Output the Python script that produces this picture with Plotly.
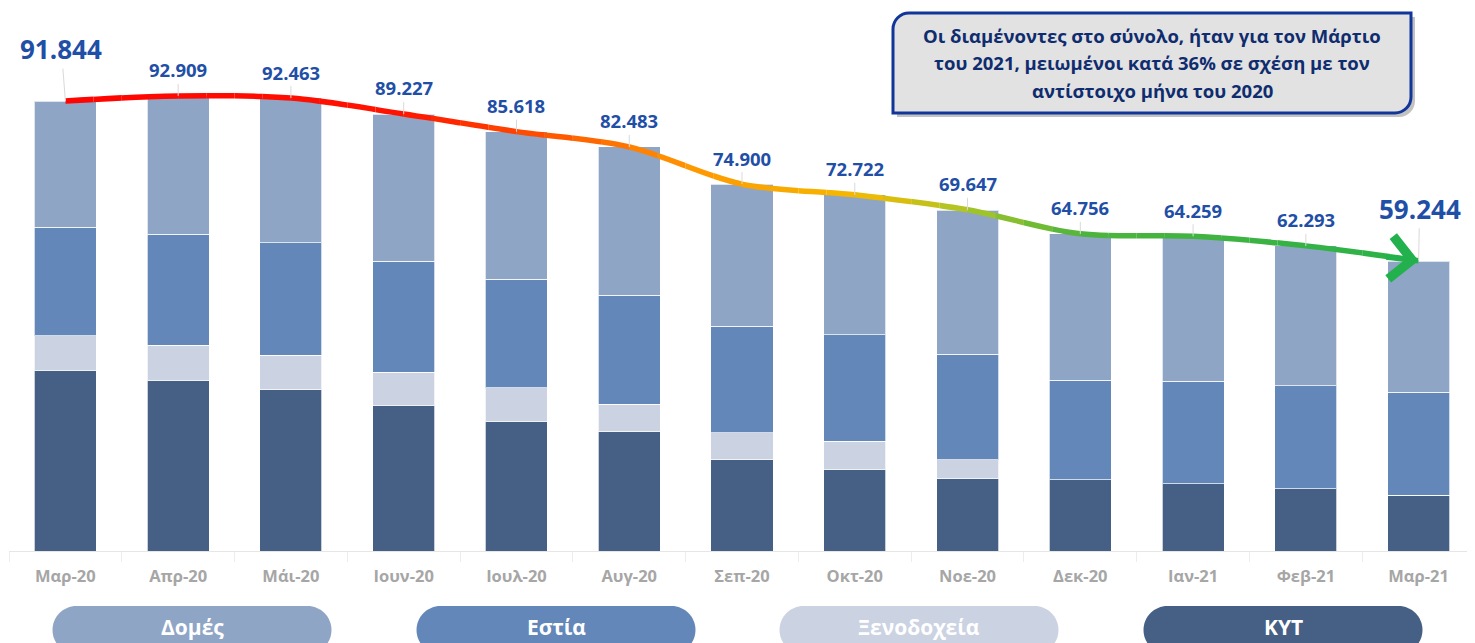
import plotly.graph_objects as go

# ---------------- data ----------------
months = ["Μαρ-20", "Απρ-20", "Μάι-20", "Ιουν-20", "Ιουλ-20", "Αυγ-20", "Σεπ-20",
          "Οκτ-20", "Νοε-20", "Δεκ-20", "Ιαν-21", "Φεβ-21", "Μαρ-21"]
totals = [91.844, 92.909, 92.463, 89.227, 85.618, 82.483, 74.900,
          72.722, 69.647, 64.756, 64.259, 62.293, 59.244]
total_labels = ["91.844", "92.909", "92.463", "89.227", "85.618", "82.483", "74.900",
                "72.722", "69.647", "64.756", "64.259", "62.293", "59.244"]
kyt = [36.9, 34.9, 32.9, 29.8, 26.5, 24.3, 18.6, 16.7, 14.7, 14.5, 13.7, 12.7, 11.4]
xenodoxeia = [7.0, 7.1, 7.1, 6.7, 6.8, 5.7, 5.5, 5.7, 3.9, 0, 0, 0, 0]
estia = [22.2, 22.7, 22.9, 22.7, 22.2, 22.2, 21.8, 21.7, 21.6, 20.4, 21.0, 21.0, 21.0]
domes = [25.7, 28.2, 29.6, 30.0, 30.1, 30.3, 29.0, 28.6, 29.4, 29.9, 29.6, 28.6, 26.8]
series_names = ["Δομές", "Εστία", "Ξενοδοχεία", "ΚΥΤ"]
note_lines = ["Οι διαμένοντες στο σύνολο, ήταν για τον Μάρτιο",
              "του 2021, μειωμένοι κατά 36% σε σχέση με τον",
              "αντίστοιχο μήνα του 2020"]

# ---------------- styles ----------------
C_DOMES = "#8FA5C5"
C_ESTIA = "#6287B8"
C_XEN = "#CBD2E2"
C_KYT = "#455F85"
LABEL_BLUE = "#1F4FA6"
FONT = "Open Sans"

OFF = 8  # page body margin
W, H = 1475 - OFF, 643 - OFF
# plot area in screen pixels: x 9..1475, y 20..551
SX0, SX1, SY0, SY1 = 9, 1475, 20, 551
ML, MR, MT, MB = SX0 - OFF, 1475 - SX1, SY0 - OFF, 643 - SY1
PW, PH = SX1 - SX0, SY1 - SY0
YMAX = 108.4


def px(X, Y):
    return (X - SX0) / PW, (SY1 - Y) / PH


def fmt(X, Y):
    a, b = px(X, Y)
    return f"{a:.5f},{b:.5f}"


fig = go.Figure()

seg_data = [(kyt, C_KYT, "ΚΥΤ"), (xenodoxeia, C_XEN, "Ξενοδοχεία"),
            (estia, C_ESTIA, "Εστία"), (domes, C_DOMES, "Δομές")]
for vals, col, nm in seg_data:
    fig.add_trace(go.Bar(x=months, y=vals, name=nm, marker=dict(color=col,
                         line=dict(color="rgba(255,255,255,0.7)", width=1)),
                         width=0.55, showlegend=False, hoverinfo="skip"))

# gradient trend line: same spline drawn on narrow clipped overlay axes
stops = [(-0.5, (255, 0, 0)), (3.0, (255, 20, 0)), (4.2, (255, 80, 0)), (5.5, (255, 150, 0)),
         (7.0, (245, 185, 0)), (8.0, (170, 198, 40)), (9.0, (78, 180, 60)), (12.5, (34, 177, 76))]


def color_at(x):
    for (x0, c0), (x1, c1) in zip(stops[:-1], stops[1:]):
        if x0 <= x <= x1:
            t = (x - x0) / (x1 - x0)
            return "rgb(%d,%d,%d)" % tuple(round(c0[k] + (c1[k] - c0[k]) * t) for k in range(3))
    return "rgb(34,177,76)"


idx = list(range(len(months)))
step = 0.25
nstrips = int(13 / step)
layout_axes = {}
for k in range(nstrips):
    a = -0.5 + k * step
    b = a + step
    axname = f"xaxis{k + 2}"
    layout_axes[axname] = dict(domain=[(a + 0.5) / 13, (b + 0.5) / 13], range=[a, b],
                               visible=False, anchor="y", fixedrange=True)
    fig.add_trace(go.Scatter(x=idx, y=totals, mode="lines", xaxis=f"x{k + 2}", yaxis="y",
                             line=dict(color=color_at(a + step / 2), width=5.5, shape="spline", smoothing=1.0),
                             showlegend=False, hoverinfo="skip"))

annotations = []
# total labels with leader lines
for i, (m, t, lab) in enumerate(zip(months, totals, total_labels)):
    big = i in (0, len(months) - 1)
    annotations.append(dict(x=m, y=t, xref="x", yref="y", text=f"<b>{lab}</b>",
                            showarrow=True, arrowhead=0, arrowwidth=1, arrowcolor="#D9D9D9",
                            ax=-4 if i == 0 else (1 if big else 0), ay=-52 if big else -26,
                            font=dict(family=FONT, size=26 if big else 18.5, color=LABEL_BLUE)))

# arrow head at end of trend line
annotations.append(dict(x=months[-1], y=totals[-1], xref="x", yref="y", text="",
                        showarrow=True, arrowhead=4, arrowsize=1.5, arrowwidth=5.5,
                        arrowcolor="rgb(34,177,76)", ax=-34, ay=-4, standoff=0))

shapes = []
# note box shadow + box
bx0, by0, bx1, by1, r = 893, 13, 1411, 113, 16


def box_path(x0, y0, x1, y1, r):
    k = 0.5523 * r
    return ("M " + fmt(x0, y0 + r) +
            " C " + fmt(x0, y0 + r - k) + " " + fmt(x0 + r - k, y0) + " " + fmt(x0 + r, y0) +
            " L " + fmt(x1, y0) +
            " L " + fmt(x1, y1 - r) +
            " C " + fmt(x1, y1 - r + k) + " " + fmt(x1 - r + k, y1) + " " + fmt(x1 - r, y1) +
            " L " + fmt(x0, y1) + " Z")


shapes.append(dict(type="path", xref="paper", yref="paper", path=box_path(bx0 + 4, by0 + 4, bx1 + 4, by1 + 4, r),
                   fillcolor="rgba(120,120,120,0.45)", line=dict(width=0), layer="above"))
shapes.append(dict(type="path", xref="paper", yref="paper", path=box_path(bx0, by0, bx1, by1, r),
                   fillcolor="#E2E2E2", line=dict(color="#10369A", width=3), layer="above"))
for j, line in enumerate(note_lines):
    cx, cy = px((bx0 + bx1) / 2, 36 + j * 27)
    annotations.append(dict(x=cx, y=cy, xref="paper", yref="paper", text=f"<b>{line}</b>",
                            showarrow=False, font=dict(family=FONT, size=18.5, color="#0F2C6E"),
                            xanchor="center", yanchor="middle"))


# legend pills
def pill_path(cx, cy, w, h):
    r = h / 2
    k = 0.5523 * r
    xl, xr = cx - w / 2 + r, cx + w / 2 - r
    yt, yb = cy - r, cy + r
    return ("M " + fmt(xl, yt) + " L " + fmt(xr, yt) +
            " C " + fmt(xr + k, yt) + " " + fmt(xr + r, cy - k) + " " + fmt(xr + r, cy) +
            " C " + fmt(xr + r, cy + k) + " " + fmt(xr + k, yb) + " " + fmt(xr, yb) +
            " L " + fmt(xl, yb) +
            " C " + fmt(xl - k, yb) + " " + fmt(xl - r, cy + k) + " " + fmt(xl - r, cy) +
            " C " + fmt(xl - r, cy - k) + " " + fmt(xl - k, yt) + " " + fmt(xl, yt) + " Z")


pill_cols = [C_DOMES, C_ESTIA, C_XEN, C_KYT]
pill_cx = [192, 556, 919, 1283]
for name, col, cx in zip(series_names, pill_cols, pill_cx):
    shapes.append(dict(type="path", xref="paper", yref="paper", path=pill_path(cx, 630, 279, 48),
                       fillcolor=col, line=dict(width=0), layer="above"))
    ax_, ay_ = px(cx, 627)
    annotations.append(dict(x=ax_, y=ay_, xref="paper", yref="paper", text=f"<b>{name}</b>",
                            showarrow=False, font=dict(family=FONT, size=21, color="white"),
                            xanchor="center", yanchor="middle"))

fig.update_layout(
    width=W, height=H, autosize=False,
    margin=dict(l=ML, r=MR, t=MT, b=MB, pad=0),
    plot_bgcolor="rgba(0,0,0,0)", paper_bgcolor="white",
    barmode="stack", bargap=0.45,
    showlegend=False,
    xaxis=dict(type="category", range=[-0.5, 12.5], showline=True, linecolor="#E6E6E6", linewidth=1,
               ticks="outside", tickson="boundaries", ticklen=10, tickcolor="#EDEDED",
               tickfont=dict(family=FONT, size=16.5, color="#A6A6A6", weight="bold"),
               ticklabelstandoff=10, showgrid=False, zeroline=False, fixedrange=True, automargin=False),
    yaxis=dict(range=[0, YMAX], visible=False, showgrid=False, zeroline=False, fixedrange=True),
    annotations=annotations,
    shapes=shapes,
    **layout_axes,
)

fig.write_html("out.html")
